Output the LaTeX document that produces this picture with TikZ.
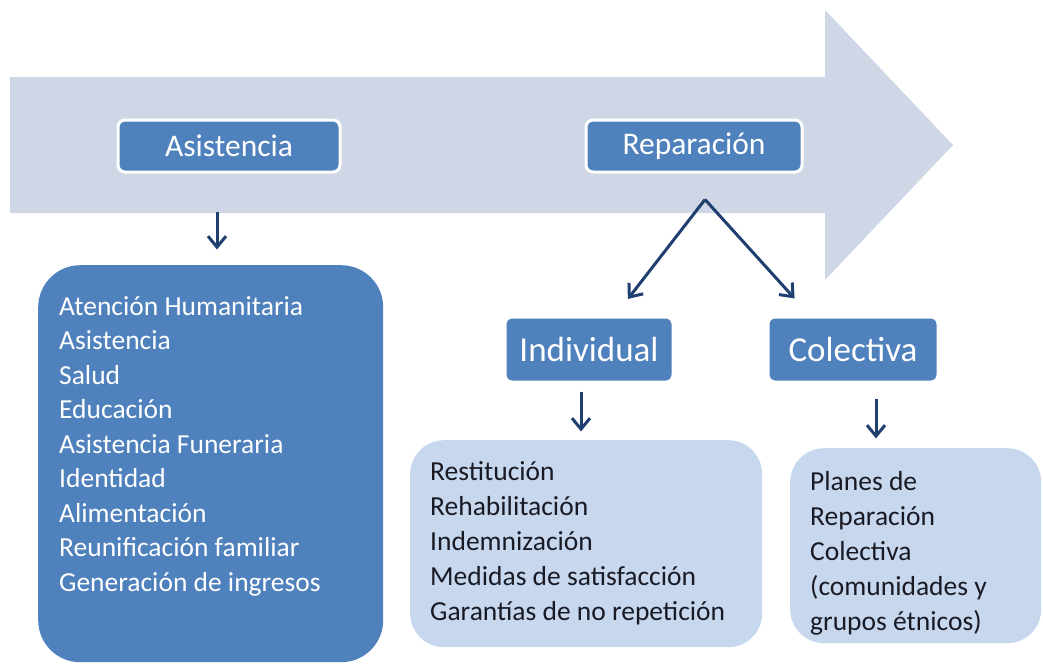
\documentclass[tikz,border=0pt]{standalone}
\usepackage{fontspec}
\setmainfont{Carlito}
\usetikzlibrary{positioning, arrows.meta}
\definecolor{ArrowGray}{HTML}{CFD7E6}
\definecolor{BoxBlue}{HTML}{4F81BD}
\definecolor{BoxLight}{HTML}{C6D7EE}
\definecolor{LinkNavy}{HTML}{1F3F6E}
\definecolor{TextDark}{HTML}{1A1A24}

\begin{document}
\begin{tikzpicture}[x=1pt, y=-1pt,
                title/.style={rounded corners=7pt, fill=BoxBlue, draw=white, line width=3pt, text=white, inner sep=0pt, font=\fontsize{31.5}{36}\selectfont},
                branch/.style={title, font=\fontsize{35}{40}\selectfont},
                darklist/.style={rounded corners=42pt, fill=BoxBlue, text=white, inner xsep=21pt, inner ysep=31pt, anchor=north west, font=\fontsize{27.5}{34.5}\selectfont},
                lightlist/.style={rounded corners=34pt, fill=BoxLight, text=TextDark, inner xsep=20pt, inner ysep=21pt, anchor=north west, font=\fontsize{27.5}{35}\selectfont},
                link/.style={-{Straight Barb[length=11pt,width=18pt]}, LinkNavy, line width=3pt}
            ]
                \fill[white] (0,0) rectangle (1043,664);
                \useasboundingbox (0,0) rectangle (1043,664);
                
                % Big arrow
                \fill[ArrowGray] (10,77) -- (825,77) -- (825,10) -- (953,145) -- (825,280) -- (825,213) -- (10,213) -- cycle;
                
                % Titles
                \node[title, minimum width=222pt, minimum height=52pt] (asis) at (229,146) {Asistencia};
                \node[title, minimum width=216pt, minimum height=52pt] (rep) at (694,146) {Reparación};
                \node[branch, minimum width=168pt, minimum height=65pt] (indiv) at (589,349.5) {Individual};
                \node[branch, minimum width=170pt, minimum height=65pt] (colect) at (853,349.5) {Colectiva};
                
                % Lists
                \node[darklist] (asislist) at (38,265) {\parbox[c][335pt][t]{303pt}{\raggedright
                    Atención Humanitaria\\ Asistencia\\ Salud\\ Educación\\ Asistencia Funeraria\\
                    Identidad\\ Alimentación\\ Reunificación familiar\\ Generación de ingresos}};
                \node[lightlist] (indivlist) at (410,440) {\parbox[c][165pt][t]{312pt}{\raggedright
                    Restitución\\ Rehabilitación\\ Indemnización\\ Medidas de satisfacción\\ Garantías de no repetición}};
                \node[lightlist, inner ysep=23pt] (colectlist) at (790,448) {\parbox[c][149pt][t]{211pt}{\raggedright
                    Planes de\\ Reparación\\ Colectiva\\ (comunidades y\\ grupos étnicos)}};
                
                % Connections
                \coordinate (fork) at ([xshift=11pt, yshift=-26pt]rep.south);
                \draw[link, shorten >=21pt] (fork) -- ([xshift=26pt]indiv.north);
                \draw[link, shorten >=23pt] (fork) -- ([xshift=-43pt]colect.north);
                \draw[link] (asis.south) ++(-12,38) -- ++(0,38);
                \draw[link] (indiv.south) ++(-8,8) -- ++(0,40);
                \draw[link] (colect.south) ++(23,15) -- ++(0,40);
            \end{tikzpicture}
\end{document}
